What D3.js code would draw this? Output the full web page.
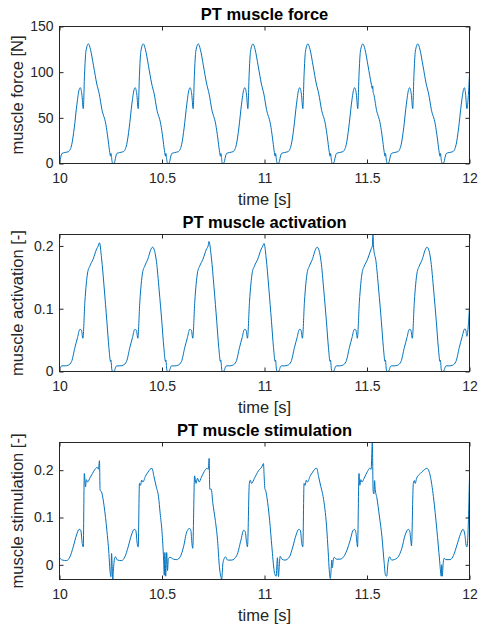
<!DOCTYPE html>
<html><head><meta charset="utf-8">
<script src="https://cdn.jsdelivr.net/npm/d3@7"></script>
<style>body{margin:0;background:#fff}svg{display:block}</style>
</head><body><svg id="c" width="480" height="632"></svg>
<script>
const xTicks = [10, 10.5, 11, 11.5, 12];
const xLimits = [10, 12];
const forceTicks = [0, 50, 100, 150];
const forceLimits = [0, 150];
const activationTicks = [0, 0.1, 0.2];
const activationLimits = [0, 0.2182];
const stimulationTicks = [0, 0.1, 0.2];
const stimulationLimits = [-0.031, 0.2585];
const titles = ["PT muscle force", "PT muscle activation", "PT muscle stimulation"];
const yLabels = ["muscle force [N]", "muscle activation [-]", "muscle stimulation [-]"];
const xLabel = "time [s]";

// [time s, force N]
const forceData = [
[10.000,2],[10.006,7],[10.012,11],[10.026,12],[10.044,13],[10.060,21],[10.072,39],[10.085,65],[10.096,81],[10.101,83],[10.109,76],[10.116,60],[10.122,97],[10.129,123],[10.141,131],[10.151,125],[10.166,107],[10.182,87],[10.194,76],[10.207,59],[10.226,43],[10.236,28],[10.244,14],[10.249,8],[10.251,11],[10.256,3],
[10.259,0],[10.268,1],[10.274,7],[10.280,11],[10.294,12],[10.312,13],[10.328,21],[10.340,39],[10.353,65],[10.364,81],[10.369,83],[10.377,76],[10.384,60],[10.390,97],[10.397,123],[10.409,131],[10.419,125],[10.434,107],[10.450,87],[10.462,76],[10.475,59],[10.494,43],[10.504,28],[10.512,14],[10.517,8],[10.519,11],[10.524,3],
[10.527,0],[10.536,1],[10.542,7],[10.548,11],[10.562,12],[10.580,13],[10.596,21],[10.608,39],[10.621,65],[10.632,81],[10.637,83],[10.645,76],[10.652,60],[10.658,97],[10.665,123],[10.677,131],[10.687,125],[10.702,107],[10.718,87],[10.730,76],[10.743,59],[10.762,43],[10.772,28],[10.780,14],[10.785,8],[10.787,11],[10.792,3],
[10.794,0],[10.803,1],[10.809,7],[10.815,11],[10.829,12],[10.847,13],[10.863,21],[10.875,39],[10.888,65],[10.899,81],[10.904,83],[10.912,76],[10.919,60],[10.925,97],[10.932,123],[10.944,131],[10.954,125],[10.969,107],[10.985,87],[10.997,76],[11.010,59],[11.029,43],[11.039,28],[11.047,14],[11.052,8],[11.054,11],[11.059,3],
[11.062,0],[11.071,1],[11.077,7],[11.083,11],[11.097,12],[11.115,13],[11.131,21],[11.143,39],[11.156,65],[11.167,81],[11.172,83],[11.180,76],[11.187,60],[11.193,97],[11.200,123],[11.212,131],[11.222,125],[11.237,107],[11.253,87],[11.265,76],[11.278,59],[11.297,43],[11.307,28],[11.315,14],[11.320,8],[11.322,11],[11.327,3],
[11.330,0],[11.339,1],[11.345,7],[11.351,11],[11.365,12],[11.383,13],[11.399,21],[11.411,39],[11.424,65],[11.435,81],[11.440,83],[11.448,76],[11.455,60],[11.461,97],[11.468,123],[11.480,131],[11.490,125],[11.505,107],[11.521,87],[11.526,82],[11.528,85],[11.530,78],[11.533,76],[11.546,59],[11.565,43],[11.575,28],[11.583,14],[11.588,8],[11.590,11],[11.595,3],
[11.598,0],[11.607,1],[11.613,7],[11.619,11],[11.633,12],[11.651,13],[11.667,21],[11.679,39],[11.692,65],[11.703,81],[11.708,83],[11.716,76],[11.723,60],[11.729,97],[11.736,123],[11.748,131],[11.758,125],[11.773,107],[11.789,87],[11.801,76],[11.814,59],[11.833,43],[11.843,28],[11.851,14],[11.856,8],[11.858,11],[11.863,3],
[11.866,0],[11.875,1],[11.881,7],[11.887,11],[11.901,12],[11.919,13],[11.935,21],[11.947,39],[11.960,65],[11.971,81],[11.975,83],[11.981,76],[11.987,60],[12.000,97]
];

// [time s, activation -]
const activationData = [
[10.000,0.005],[10.005,0.007],[10.011,0.009],[10.026,0.009],[10.042,0.010],[10.059,0.016],[10.075,0.038],[10.088,0.054],[10.099,0.067],[10.107,0.066],[10.114,0.053],[10.124,0.112],[10.137,0.157],[10.148,0.168],[10.164,0.179],[10.181,0.195],[10.189,0.200],[10.195,0.205],[10.205,0.181],[10.218,0.133],[10.231,0.080],[10.241,0.038],[10.249,0.016],[10.251,0.018],[10.255,0.004],
[10.259,0.000],[10.268,0.001],[10.273,0.006],[10.279,0.009],[10.294,0.009],[10.310,0.010],[10.327,0.016],[10.343,0.038],[10.356,0.054],[10.367,0.067],[10.375,0.066],[10.382,0.053],[10.392,0.112],[10.405,0.157],[10.416,0.168],[10.432,0.180],[10.444,0.193],[10.454,0.198],[10.463,0.193],[10.473,0.175],[10.486,0.130],[10.499,0.080],[10.509,0.038],[10.517,0.016],[10.519,0.018],[10.523,0.004],
[10.527,0.000],[10.536,0.001],[10.541,0.006],[10.547,0.009],[10.562,0.009],[10.578,0.010],[10.595,0.016],[10.611,0.038],[10.624,0.054],[10.635,0.067],[10.643,0.066],[10.650,0.053],[10.660,0.112],[10.673,0.157],[10.684,0.168],[10.700,0.179],[10.717,0.195],[10.725,0.200],[10.729,0.207],[10.741,0.181],[10.754,0.133],[10.767,0.080],[10.777,0.038],[10.785,0.016],[10.787,0.018],[10.791,0.004],
[10.794,0.000],[10.803,0.001],[10.808,0.006],[10.814,0.009],[10.829,0.009],[10.845,0.010],[10.862,0.016],[10.878,0.038],[10.891,0.054],[10.902,0.067],[10.910,0.066],[10.917,0.053],[10.927,0.112],[10.940,0.157],[10.951,0.168],[10.967,0.179],[10.984,0.195],[10.992,0.200],[10.998,0.204],[11.008,0.181],[11.021,0.133],[11.034,0.080],[11.044,0.038],[11.052,0.016],[11.054,0.018],[11.058,0.004],
[11.062,0.000],[11.071,0.001],[11.076,0.006],[11.082,0.009],[11.097,0.009],[11.113,0.010],[11.130,0.016],[11.146,0.038],[11.159,0.054],[11.170,0.067],[11.178,0.066],[11.185,0.053],[11.195,0.112],[11.208,0.157],[11.219,0.168],[11.235,0.180],[11.247,0.193],[11.257,0.198],[11.266,0.193],[11.276,0.175],[11.289,0.130],[11.302,0.080],[11.312,0.038],[11.320,0.016],[11.322,0.018],[11.326,0.004],
[11.330,0.000],[11.339,0.001],[11.344,0.006],[11.350,0.009],[11.365,0.009],[11.381,0.010],[11.398,0.016],[11.414,0.038],[11.427,0.054],[11.438,0.067],[11.446,0.066],[11.453,0.053],[11.463,0.112],[11.476,0.157],[11.487,0.168],[11.503,0.179],[11.520,0.195],[11.526,0.200],[11.529,0.218],[11.532,0.198],[11.544,0.175],[11.557,0.130],[11.570,0.080],[11.580,0.038],[11.588,0.016],[11.590,0.018],[11.594,0.004],
[11.598,0.000],[11.607,0.001],[11.612,0.006],[11.618,0.009],[11.633,0.009],[11.649,0.010],[11.666,0.016],[11.682,0.038],[11.695,0.054],[11.706,0.067],[11.714,0.066],[11.721,0.053],[11.731,0.112],[11.744,0.157],[11.755,0.168],[11.771,0.180],[11.783,0.193],[11.793,0.198],[11.802,0.193],[11.812,0.175],[11.825,0.130],[11.838,0.080],[11.848,0.038],[11.856,0.016],[11.858,0.018],[11.862,0.004],
[11.866,0.000],[11.875,0.001],[11.880,0.006],[11.886,0.009],[11.901,0.009],[11.917,0.010],[11.934,0.016],[11.950,0.038],[11.963,0.054],[11.977,0.068],[11.982,0.066],[11.987,0.056],[12.000,0.103]
];

// [time s, stimulation -]
const stimulationData = [
[10.000,0.016],[10.006,0.012],[10.015,0.010],[10.035,0.009],[10.051,0.017],[10.067,0.038],[10.083,0.063],[10.096,0.075],[10.104,0.073],[10.111,0.045],[10.116,0.038],[10.121,0.193],[10.127,0.165],[10.131,0.180],[10.137,0.175],[10.150,0.185],[10.161,0.193],[10.173,0.202],[10.185,0.206],[10.190,0.202],[10.195,0.220],[10.198,0.158],[10.205,0.154],[10.218,0.123],[10.231,0.073],[10.241,0.024],[10.246,-0.011],[10.251,-0.025],[10.254,0.024],[10.257,-0.003],[10.260,-0.031],
[10.263,-0.011],[10.268,0.012],[10.273,0.017],[10.283,0.010],[10.303,0.009],[10.319,0.017],[10.335,0.038],[10.351,0.063],[10.364,0.075],[10.372,0.073],[10.379,0.045],[10.384,0.038],[10.390,0.172],[10.395,0.168],[10.401,0.179],[10.407,0.175],[10.420,0.188],[10.432,0.196],[10.442,0.202],[10.451,0.204],[10.461,0.186],[10.472,0.165],[10.483,0.144],[10.491,0.109],[10.500,0.070],[10.508,0.010],[10.511,-0.022],[10.514,0.026],[10.518,-0.024],[10.523,0.026],[10.527,-0.012],[10.531,0.013],[10.539,0.016],[10.556,0.012],
[10.572,0.011],[10.589,0.017],[10.605,0.038],[10.621,0.070],[10.634,0.077],[10.641,0.072],[10.646,0.045],[10.650,0.035],[10.659,0.188],[10.666,0.172],[10.673,0.183],[10.681,0.175],[10.692,0.185],[10.706,0.197],[10.719,0.204],[10.726,0.202],[10.730,0.225],[10.733,0.160],[10.740,0.160],[10.748,0.130],[10.760,0.094],[10.771,0.052],[10.780,-0.004],[10.787,-0.025],[10.791,-0.031],[10.797,0.003],[10.803,0.013],[10.810,0.017],[10.820,0.010],[10.840,0.010],
[10.865,0.020],[10.885,0.052],[10.898,0.073],[10.906,0.070],[10.913,0.045],[10.917,0.038],[10.926,0.172],[10.931,0.179],[10.937,0.172],[10.951,0.183],[10.971,0.199],[10.987,0.207],[10.995,0.214],[10.998,0.190],[11.002,0.160],[11.005,0.158],[11.012,0.142],[11.025,0.094],[11.036,0.038],[11.047,-0.012],[11.052,-0.022],[11.057,-0.024],[11.063,0.015],[11.068,-0.025],[11.072,-0.003],[11.076,0.018],[11.085,0.012],[11.100,0.010],
[11.122,0.017],[11.138,0.038],[11.154,0.063],[11.167,0.075],[11.175,0.073],[11.182,0.045],[11.187,0.038],[11.193,0.172],[11.198,0.168],[11.204,0.179],[11.210,0.175],[11.223,0.188],[11.235,0.196],[11.245,0.202],[11.255,0.204],[11.264,0.186],[11.275,0.165],[11.286,0.144],[11.303,0.080],[11.311,0.025],[11.316,-0.012],[11.321,-0.029],[11.325,-0.010],[11.328,0.010],[11.331,-0.006],[11.336,0.012],[11.340,0.016],[11.350,0.012],[11.369,0.012],
[11.386,0.017],[11.402,0.031],[11.418,0.052],[11.431,0.072],[11.439,0.075],[11.446,0.068],[11.451,0.045],[11.454,0.038],[11.461,0.193],[11.465,0.168],[11.470,0.180],[11.476,0.175],[11.486,0.183],[11.502,0.197],[11.513,0.204],[11.520,0.202],[11.526,0.2585],[11.530,0.155],[11.534,0.150],[11.537,0.178],[11.540,0.160],[11.548,0.142],[11.561,0.101],[11.573,0.059],[11.584,0.003],[11.590,-0.022],[11.596,-0.024],[11.602,0.002],[11.610,0.017],[11.620,0.010],[11.646,0.014],
[11.670,0.035],[11.686,0.063],[11.702,0.075],[11.709,0.070],[11.714,0.050],[11.717,0.040],[11.726,0.172],[11.731,0.178],[11.735,0.172],[11.742,0.183],[11.760,0.193],[11.777,0.200],[11.792,0.204],[11.808,0.189],[11.824,0.144],[11.841,0.073],[11.854,0.010],[11.859,-0.015],[11.862,-0.024],[11.864,0.000],[11.867,-0.024],[11.872,0.005],[11.877,0.014],[11.884,0.011],[11.906,0.011],
[11.922,0.020],[11.939,0.042],[11.955,0.064],[11.968,0.075],[11.977,0.065],[11.984,0.040],[11.988,0.038],[12.000,0.186]
];

const panels = [
  {data: forceData, limits: forceLimits, ticks: forceTicks, top: 26.5},
  {data: activationData, limits: activationLimits, ticks: activationTicks, top: 234.5},
  {data: stimulationData, limits: stimulationLimits, ticks: stimulationTicks, top: 442.5}
];

const svg = d3.select("#c");
const FONT = "'Liberation Sans', Arial, Helvetica, sans-serif";
const TXT = "#262626";
const left = 59.5, right = 469.5, H = 137;
const x = d3.scaleLinear().domain(xLimits).range([left, right]);

panels.forEach((p, i) => {
  const top = p.top, bottom = top + H;
  const y = d3.scaleLinear().domain(p.limits).range([bottom, top]);
  const g = svg.append("g");

  const clipId = "clip" + i;
  svg.append("clipPath").attr("id", clipId).append("rect")
    .attr("x", left).attr("y", top).attr("width", right - left).attr("height", H);

  g.append("path").datum(p.data)
    .attr("clip-path", `url(#${clipId})`)
    .attr("fill", "none").attr("stroke", "#0072BD").attr("stroke-width", 1)
    .attr("stroke-linejoin", "round")
    .attr("d", d3.line().x(d => x(d[0])).y(d => y(d[1])).curve(d3.curveMonotoneX));

  const xa = g.append("g").attr("transform", `translate(0,${bottom})`)
    .call(d3.axisBottom(x).tickValues(xTicks).tickFormat(d => String(d)).tickSize(-4).tickSizeOuter(0).tickPadding(10));
  const xt = g.append("g").attr("transform", `translate(0,${top})`)
    .call(d3.axisTop(x).tickValues(xTicks).tickFormat("").tickSize(-4).tickSizeOuter(0));
  const ya = g.append("g").attr("transform", `translate(${left},0)`)
    .call(d3.axisLeft(y).tickValues(p.ticks).tickFormat(d => String(d)).tickSize(-4).tickSizeOuter(0).tickPadding(6));
  const yt = g.append("g").attr("transform", `translate(${right},0)`)
    .call(d3.axisRight(y).tickValues(p.ticks).tickFormat("").tickSize(-4).tickSizeOuter(0));

  [xa, xt, ya, yt].forEach(a => {
    a.select(".domain").remove();
    a.selectAll("line").attr("stroke", TXT).attr("stroke-width", 1);
    a.selectAll("text").attr("fill", TXT).style("font-family", FONT).style("font-size", "14px");
  });

  g.append("rect").attr("x", left).attr("y", top).attr("width", right - left).attr("height", H)
    .attr("fill", "none").attr("stroke", TXT).attr("stroke-width", 1);

  g.append("text").attr("x", (left + right) / 2).attr("y", top - 7)
    .attr("text-anchor", "middle").attr("fill", "#000")
    .style("font-family", FONT).style("font-size", "16.5px").style("font-weight", "bold")
    .text(titles[i]);

  g.append("text").attr("x", (left + right) / 2).attr("y", bottom + 41.5)
    .attr("text-anchor", "middle").attr("fill", TXT)
    .style("font-family", FONT).style("font-size", "16.5px")
    .text(xLabel);

  g.append("text").attr("transform", `translate(22.5,${(top + bottom) / 2}) rotate(-90)`)
    .attr("text-anchor", "middle").attr("fill", TXT)
    .style("font-family", FONT).style("font-size", "16.5px")
    .text(yLabels[i]);
});
</script></body></html>
